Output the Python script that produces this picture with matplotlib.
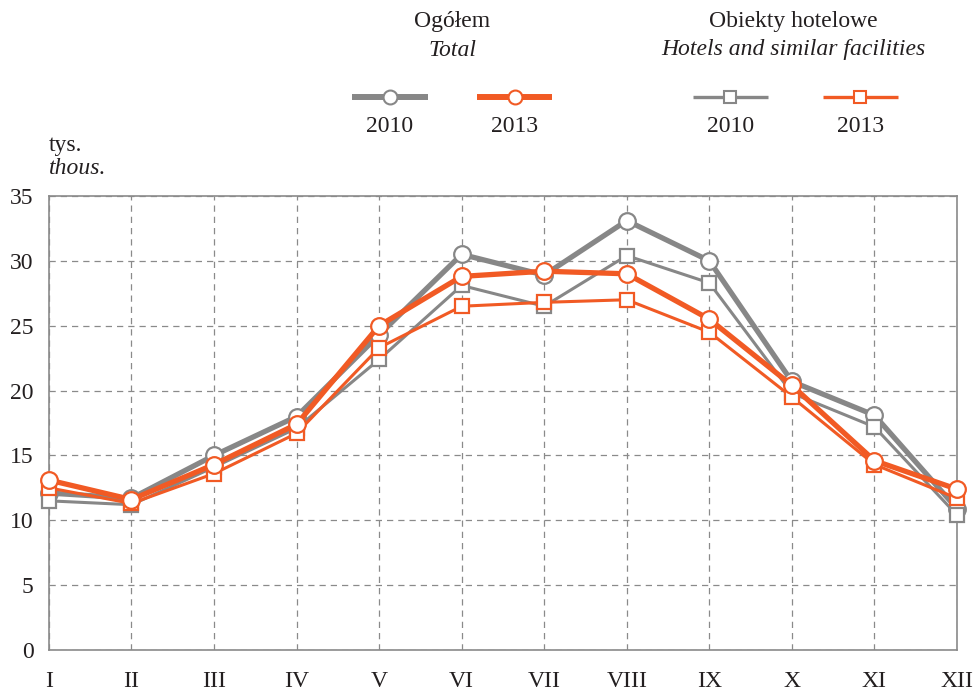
import matplotlib.pyplot as plt
from matplotlib.lines import Line2D

plt.rcParams['font.family'] = ['Liberation Serif', 'DejaVu Serif']

MONTHS = ["I", "II", "III", "IV", "V", "VI", "VII", "VIII", "IX", "X", "XI", "XII"]
total_2010 = [12.1, 11.7, 15.0, 18.0, 24.3, 30.5, 28.9, 33.1, 30.0, 20.7, 18.1, 10.9]
total_2013 = [13.1, 11.6, 14.3, 17.4, 25.0, 28.8, 29.2, 29.0, 25.5, 20.4, 14.6, 12.4]
hotels_2010 = [11.5, 11.2, 14.1, 17.1, 22.4, 28.1, 26.5, 30.4, 28.3, 19.8, 17.2, 10.4]
hotels_2013 = [12.5, 11.3, 13.6, 16.7, 23.3, 26.5, 26.8, 27.0, 24.5, 19.5, 14.3, 11.7]
Y_TICKS = [0, 5, 10, 15, 20, 25, 30, 35]

GRAY = '#878787'
ORANGE = '#f15a24'
TXT = '#231f20'
FS = 17

fig = plt.figure(figsize=(9.79, 6.91), dpi=100)
ax = fig.add_axes([0.050, 0.0593, 0.9275, 0.6571])

x = range(len(MONTHS))
series = [
    (total_2010, GRAY, 3.8, 'o', 12),
    (hotels_2010, GRAY, 2.2, 's', 10),
    (hotels_2013, ORANGE, 2.2, 's', 10),
    (total_2013, ORANGE, 3.8, 'o', 12),
]
for i, (vals, col, lw, mk, ms) in enumerate(series):
    ax.plot(x, vals, color=col, lw=lw, marker=mk, ms=ms, mfc='white',
            mec=col, mew=1.6, zorder=3 + i, clip_on=False)

ax.set_xlim(0, 11)
ax.set_ylim(0, 35)
ax.set_xticks(list(x))
ax.set_xticklabels(MONTHS, fontsize=FS)
ax.set_yticks(Y_TICKS)
ax.set_yticklabels([str(v) for v in Y_TICKS], fontsize=FS)
ax.tick_params(length=0, colors=TXT)
ax.tick_params(axis='x', pad=15)
ax.tick_params(axis='y', pad=11)
ax.grid(True, color='#8a8a8a', linestyle=(0, (5, 4)), linewidth=0.9)
for s in ax.spines.values():
    s.set_color('#8a8a8a')
    s.set_linewidth(1.2)

fig.text(49 / 979, 1 - 146 / 691, 'tys.', fontsize=FS, ha='left', va='center', color=TXT)
fig.text(49 / 979, 1 - 168 / 691, 'thous.', fontsize=FS, ha='left', va='center',
         style='italic', color=TXT)

# legend drawn by hand
W, H = 979, 691
groups = [
    ('Ogółem', 'Total', 452, [(352, 428, GRAY, 4.3, 'o', 10, '2010'),
                              (477, 552, ORANGE, 4.3, 'o', 10, '2013')]),
    ('Obiekty hotelowe', 'Hotels and similar facilities', 793,
     [(693, 768, GRAY, 2.4, 's', 9, '2010'), (823, 898, ORANGE, 2.4, 's', 9, '2013')]),
]
for title, sub, cx, items in groups:
    fig.text(cx / W, 1 - 22 / H, title, fontsize=FS, ha='center', va='center', color=TXT)
    fig.text(cx / W, 1 - 50 / H, sub, fontsize=FS, ha='center', va='center',
             style='italic', color=TXT)
    for x0, x1, col, lw, mk, ms, lab in items:
        fig.add_artist(Line2D([x0 / W, x1 / W], [1 - 97 / H] * 2, color=col, lw=lw,
                              transform=fig.transFigure, solid_capstyle='butt'))
        fig.add_artist(Line2D([(x0 + x1) / 2 / W], [1 - 97 / H], marker=mk, ms=ms, mfc='white',
                              mec=col, mew=1.5, transform=fig.transFigure))
        fig.text((x0 + x1) / 2 / W, 1 - 126 / H, lab, fontsize=FS, ha='center', va='center',
                 color=TXT)

fig.savefig('out.png', dpi=100)
